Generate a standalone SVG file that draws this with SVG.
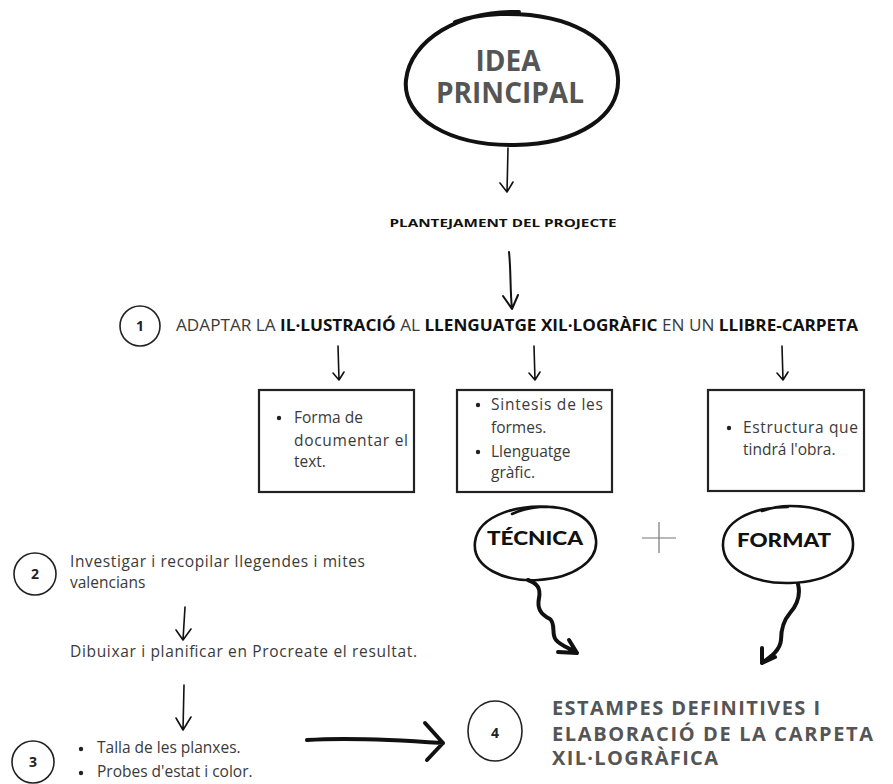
<svg xmlns="http://www.w3.org/2000/svg" width="893" height="784" viewBox="0 0 893 784">
<defs>
<style>
.ink{fill:none;stroke:#111;stroke-linecap:round;stroke-linejoin:round}
.thin{stroke-width:1.6}
.thick{stroke-width:4}
.circ{fill:none;stroke:#222;stroke-width:1.6}
.box{fill:#fff;stroke:#222;stroke-width:2.2}
.big{font-family:"Open Sans",sans-serif;font-weight:700;fill:#555}
.body{font-family:"Open Sans",sans-serif;fill:#3a3a3a;font-size:15.5px}
.bx{font-size:15.5px}
.num{font-family:"Open Sans",sans-serif;font-weight:700;fill:#222;font-size:14px;text-anchor:middle}
.lbl{font-family:"Lato","Open Sans",sans-serif;font-weight:900;fill:#111}
.b{font-weight:700;fill:#111}
</style>
</defs>
<rect width="893" height="784" fill="#fff"/>

<g id="idea">
<path class="ink thick" d="M519 12 C460 10 410 40 406 80 C402 118 450 146 515 145 C580 144 620 115 618 78 C616 40 570 12 500 14 C482 15 468 17 455 22"/>
<text class="big" x="508" y="71" font-size="28" text-anchor="middle">IDEA</text>
<text class="big" x="510" y="103" font-size="28" text-anchor="middle">PRINCIPAL</text>
</g>

<g id="plantejament">
<text x="503" y="227" font-family="Open Sans,sans-serif" font-weight="700" font-size="10.5" fill="#111" text-anchor="middle" textLength="227" lengthAdjust="spacingAndGlyphs">PLANTEJAMENT DEL PROJECTE</text>
</g>

<g id="step1">
<circle class="circ" cx="140" cy="326" r="20"/>
<text class="num" x="140" y="331">1</text>
<text class="body" x="176" y="331" font-size="13" textLength="682" lengthAdjust="spacingAndGlyphs">ADAPTAR LA <tspan class="b">IL·LUSTRACIÓ</tspan> AL <tspan class="b">LLENGUATGE XIL·LOGRÀFIC</tspan> EN UN <tspan class="b">LLIBRE-CARPETA</tspan></text>
</g>

<g id="box1">
<rect class="box" x="259" y="390" width="155" height="102"/>
<circle cx="279" cy="418" r="2.2" fill="#222"/>
<text class="body bx" x="294" y="423">Forma de</text>
<text class="body bx" x="294" y="446" textLength="114" lengthAdjust="spacing">documentar el</text>
<text class="body bx" x="294" y="467">text.</text>
</g>

<g id="box2">
<rect class="box" x="457" y="390" width="155" height="102"/>
<circle cx="478" cy="405" r="2.2" fill="#222"/>
<text class="body bx" x="491" y="410" textLength="112" lengthAdjust="spacing">Sintesis de les</text>
<text class="body bx" x="491" y="433">formes.</text>
<circle cx="478" cy="452" r="2.2" fill="#222"/>
<text class="body bx" x="491" y="457">Llenguatge</text>
<text class="body bx" x="491" y="478">gràfic.</text>
</g>

<g id="box3">
<rect class="box" x="708" y="390" width="156" height="101"/>
<circle cx="729" cy="428" r="2.2" fill="#222"/>
<text class="body bx" x="743" y="433" textLength="115" lengthAdjust="spacing">Estructura que</text>
<text class="body bx" x="743" y="455">tindrá l'obra.</text>
</g>

<g id="tecnica">
<path class="ink" stroke-width="2.6" d="M560 508 C520 502 478 515 475 542 C472 568 505 582 538 580 C575 578 598 560 596 540 C594 518 570 505 540 507 C528 508 520 510 512 514"/>
<text class="lbl" x="535" y="545" font-size="19" text-anchor="middle" textLength="96" lengthAdjust="spacingAndGlyphs">TÉCNICA</text>
</g>

<g id="plus">
<path d="M642 538 H676 M659 522 V553" stroke="#777" stroke-width="1.2" fill="none"/>
</g>

<g id="format">
<path class="ink" stroke-width="2.6" d="M788 507 C750 507 722 522 723 546 C724 570 755 584 790 583 C828 582 854 566 853 543 C852 520 826 506 790 506 C780 506 770 508 762 511"/>
<text class="lbl" x="784" y="547" font-size="19" text-anchor="middle" textLength="94" lengthAdjust="spacingAndGlyphs">FORMAT</text>
</g>

<g id="step2">
<circle class="circ" cx="35" cy="574" r="21"/>
<text class="num" x="35" y="579">2</text>
<text class="body" x="70" y="567" textLength="295" lengthAdjust="spacing">Investigar i recopilar llegendes i mites</text>
<text class="body" x="70" y="588">valencians</text>
</g>

<g id="dibuixar">
<text class="body" x="70" y="657" textLength="347" lengthAdjust="spacing">Dibuixar i planificar en Procreate el resultat.</text>
</g>

<g id="step3">
<circle class="circ" cx="33" cy="762" r="21"/>
<text class="num" x="33" y="767">3</text>
<circle cx="81" cy="749" r="2.2" fill="#222"/>
<text class="body" x="97" y="753">Talla de les planxes.</text>
<circle cx="81" cy="773" r="2.2" fill="#222"/>
<text class="body" x="97" y="777">Probes d'estat i color.</text>
</g>

<g id="step4">
<ellipse class="circ" cx="495" cy="731" rx="27" ry="30"/>
<text class="num" x="495" y="738" font-size="17">4</text>
<text class="big" x="552" y="715" font-size="20" textLength="268" lengthAdjust="spacing">ESTAMPES DEFINITIVES I</text>
<text class="big" x="552" y="741" font-size="20" textLength="321" lengthAdjust="spacing">ELABORACIÓ DE LA CARPETA</text>
<text class="big" x="552" y="765" font-size="20" textLength="166" lengthAdjust="spacing">XIL·LOGRÀFICA</text>
</g>

<g id="connectors">
<path class="ink thin" d="M508 148 L507 192 M500 183 L507 192 L513 182"/>
<path class="ink" stroke-width="2" d="M509 252 C511 270 510 290 512 309 M503 296 L512 309 L518 295"/>
<path class="ink thin" d="M338 346 L339 380 M333 373 L339 380 L344 372"/>
<path class="ink thin" d="M534 346 L535 380 M529 373 L535 380 L540 372"/>
<path class="ink thin" d="M782 346 L783 380 M777 373 L783 380 L788 372"/>
<path class="ink thick" d="M528 580 C537 583 541 588 539 598 C537 608 540 614 550 619 C556 624 551 634 556 640 C561 646 570 648 577 653 M558 652 L577 653 L569 640"/>
<path class="ink thick" d="M798 584 C801 596 797 605 790 613 C784 620 781 628 781 640 C780 650 772 656 762 663 M762 648 L762 663 L775 657"/>
<path class="ink thin" d="M185 607 L183 640 M176 630 L183 640 L191 629"/>
<path class="ink thin" d="M184 685 L183 730 M176 718 L183 730 L191 717"/>
<path class="ink thick" d="M307 740 C350 737 400 740 443 743 M425 723 L443 743 L427 760"/>
</g>
</svg>
